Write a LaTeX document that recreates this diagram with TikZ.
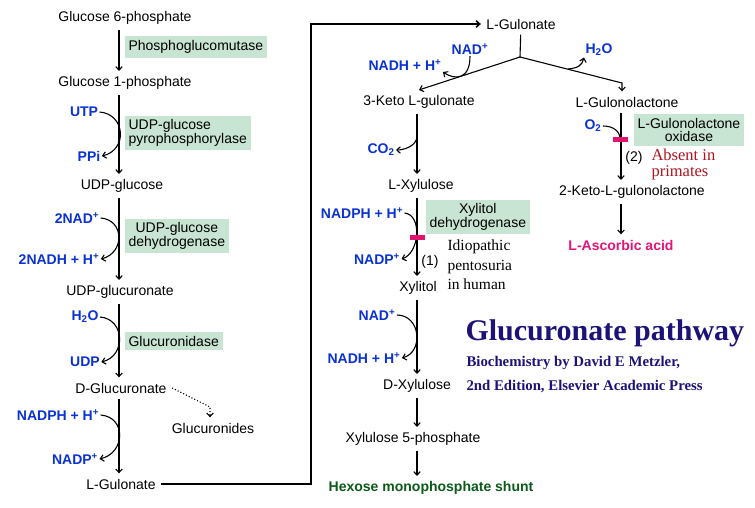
\documentclass[tikz,border=0pt]{standalone}
\usepackage{fontspec}
\setmainfont{Liberation Sans}
\newfontfamily\timesfont{Liberation Serif}
\usetikzlibrary{arrows.meta,positioning}
\definecolor{cofblue}{RGB}{10,50,210}
\definecolor{enzgreen}{RGB}{200,228,210}
\definecolor{blockpink}{RGB}{226,20,110}
\definecolor{titlenavy}{RGB}{28,18,120}
\definecolor{shuntgreen}{RGB}{10,90,25}
\definecolor{absentred}{RGB}{175,20,30}
\definecolor{ascorbic}{RGB}{225,20,120}

\begin{document}
\begin{tikzpicture}
[x=1pt,y=-1pt,>={Straight Barb[length=3.5pt,width=6.5pt]},line width=1.1pt,
 met/.style = {font=\fontsize{14}{14}\selectfont, inner sep=5pt},
 cof/.style = {font=\fontsize{14}{14}\selectfont\bfseries, text=cofblue, inner sep=1pt},
 enz/.style = {fill=enzgreen, font=\fontsize{14}{13.5}\selectfont, inner xsep=4pt, inner ysep=4pt, anchor=west},
 bar/.style = {fill=blockpink, minimum width=15pt, minimum height=5pt, inner sep=0pt},
 note/.style = {font=\timesfont\fontsize{15.5}{19.5}\selectfont, align=left, anchor=west, inner sep=0pt}]
\useasboundingbox (0,0) rectangle (755,508);
\coordinate (lx) at (119,0);
\coordinate (rx) at (417,0);
\coordinate (gx) at (621,0);
\node (g6p) at (125,18)[met] {Glucose 6-phosphate};
\node (pgm) at (124,47)[enz] {Phosphoglucomutase};
\node (g1p) at (125,83)[met] {Glucose 1-phosphate};
\node (utp) at (84,112)[cof] {UTP};
\node (ppi) at (89,156)[cof] {PPi};
\node (ugp) at (124,133)[enz,align=left] {UDP-glucose\\pyrophosphorylase};
\node (udpg) at (122,186)[met] {UDP-glucose};
\node (nad1) at (77,218)[cof] {2NAD\textsuperscript{+}};
\node (nadh1) at (59,259)[cof] {2NADH + H\textsuperscript{+}};
\node (ugdh) at (124,236)[enz,align=center] {UDP-glucose\\dehydrogenase};
\node (udpga) at (120,292)[met] {UDP-glucuronate};
\node (h2o1) at (85,317)[cof] {H\textsubscript{2}O};
\node (gus) at (124,341)[enz] {Glucuronidase};
\node (udp) at (85,362)[cof] {UDP};
\node (dglc) at (121,388)[met] {D-Glucuronate};
\node (glcs) at (213,428)[met] {Glucuronides};
\node (nadph1) at (58,415)[cof] {NADPH + H\textsuperscript{+}};
\node (nadp1) at (75,459)[cof] {NADP\textsuperscript{+}};
\node (lgul1) at (121,484)[met] {L-Gulonate};
\coordinate (dt) at (210,407);
\coordinate (cx) at (311,250);
\node (lgul2) at (521,24)[met] {L-Gulonate};
\coordinate (jn) at (520,57);
\coordinate (rb) at (622,83);
\node (keto) at (419,102)[met] {3-Keto L-gulonate};
\node (lac) at (627,102)[met] {L-Gulonolactone};
\node (nad2) at (470,49)[cof] {NAD\textsuperscript{+}};
\node (nadh2) at (405,65)[cof] {NADH + H\textsuperscript{+}};
\node (h2o2) at (599,50)[cof] {H\textsubscript{2}O};
\coordinate (hb) at (568,69);
\node (co2) at (381,150)[cof] {CO\textsubscript{2}};
\coordinate (cb) at (417,136);
\node (lxu) at (421,186)[met] {L-Xylulose};
\node (nadph2) at (362,213)[cof] {NADPH + H\textsuperscript{+}};
\node (xdh) at (425,217)[enz,align=center] {Xylitol\\dehydrogenase};
\node (nadp2) at (377,259)[cof] {NADP\textsuperscript{+}};
\node (n1) at (430,262)[met,inner sep=0pt] {(1)};
\node (idio) at (447,265)[note] {Idiopathic\\pentosuria\\in human};
\node (xyl) at (418,288)[met] {Xylitol};
\node (nad3) at (377,315)[cof] {NAD\textsuperscript{+}};
\node (nadh3) at (364,358)[cof] {NADH + H\textsuperscript{+}};
\node (dxu) at (417,386)[met] {D-Xylulose};
\node (x5p) at (413,439)[met] {Xylulose 5-phosphate};
\node (hmp) at (431,488)[met,font=\fontsize{14}{14}\selectfont\bfseries,text=shuntgreen] {Hexose monophosphate shunt};
\node (o2) at (593,126)[cof] {O\textsubscript{2}};
\coordinate (ob) at (620,139);
\node (gulo) at (633,130)[enz,align=center] {L-Gulonolactone\\oxidase};
\node (n2) at (634,158)[met,inner sep=0pt] {(2)};
\node (absent) at (651,165)[note,font=\timesfont\fontsize{16.5}{16}\selectfont,text=absentred] {Absent in\\primates};
\node (kgl) at (632,192)[met] {2-Keto-L-gulonolactone};
\node (asc) at (621,245)[met,font=\fontsize{14}{14}\selectfont\bfseries,text=ascorbic] {L-Ascorbic acid};
\node (title) at (465,333)[anchor=west,inner sep=0pt,font=\timesfont\fontsize{30}{30}\selectfont\bfseries,text=titlenavy] {Glucuronate pathway};
\node (ref1) at (466,363)[anchor=west,inner sep=0pt,font=\timesfont\fontsize{14.8}{15}\selectfont\bfseries,text=titlenavy] {Biochemistry by David E Metzler,};
\node (ref2) at (466,387)[anchor=west,inner sep=0pt,font=\timesfont\fontsize{14.8}{15}\selectfont\bfseries,text=titlenavy] {2nd Edition, Elsevier Academic Press};
\draw[->] (g6p.south -| lx) -- (g1p.north -| lx);
\draw[->] (g1p.south -| lx) -- (udpg.north -| lx);
\draw[->] (udpg.south -| lx) -- (udpga.north -| lx);
\draw[->] (udpga.south -| lx) -- (dglc.north -| lx);
\draw[->] (dglc.south -| lx) -- (lgul1.north -| lx);
\draw[->] (utp.east) .. controls +(26,2) and +(26,-6) .. (ppi.east);
\draw[->] (nad1.east) .. controls +(24,2) and +(24,-6) .. (nadh1.east);
\draw[->] (h2o1.east) .. controls +(25,2) and +(25,-6) .. (udp.east);
\draw[->] (nadph1.east) .. controls +(26,2) and +(26,-6) .. (nadp1.east);
\draw[->,dotted] (dglc.east) -- (dt) -- (dt |- glcs.north);
\draw[->,line width=1.6pt] (lgul1.east) -| (cx) |- (lgul2.west);
\draw (lgul2) -- (jn);
\draw[->] (jn) -- (keto.north);
\draw[->] (jn) -- (rb) -- (lac.north -| rb);
\draw[->] (nad2.south) .. controls +(0,24) and +(12,8) .. (nadh2.south east);
\draw[->] (hb) .. controls +(10,-1) and +(-2,8) .. (h2o2.south west);
\draw[->] (keto.south -| rx) -- (lxu.north -| rx);
\draw[->] (cb) .. controls +(0,10) and +(8,0) .. (co2.east);
\draw[->] (lxu.south -| rx) -- (xyl.north -| rx);
\draw[->] (nadph2.east) .. controls +(18,2) and +(18,-6) .. (nadp2.east);
\draw[->] (xyl.south -| rx) -- (dxu.north -| rx);
\draw[->] (nad3.east) .. controls +(24,0) and +(22,-6) .. (nadh3.east);
\draw[->] (dxu.south -| rx) -- (x5p.north -| rx);
\draw[->] (x5p.south -| rx) -- (hmp.north -| rx);
\draw[->] (lac.south -| gx) -- (kgl.north -| gx);
\draw (o2.east) .. controls +(10,0) and +(0,-8) .. (ob);
\draw[->] (kgl.south -| gx) -- (asc.north -| gx);
\node (blk1) at (417,237)[bar] {};
\node (blk2) at (620,140)[bar] {};
\end{tikzpicture}
\end{document}
